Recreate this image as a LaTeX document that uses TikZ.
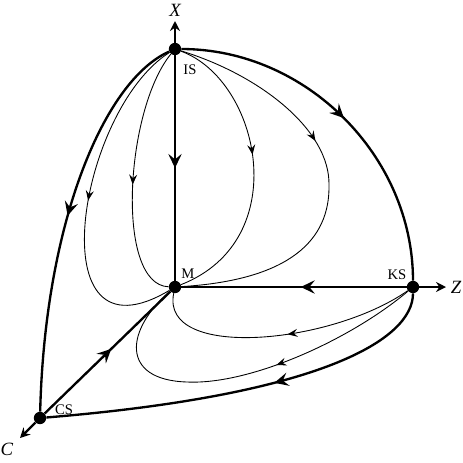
\documentclass[tikz,border=0pt]{standalone}
\usepackage{fontspec}
\setmainfont{Liberation Serif}
\usepackage{tikz}
\usetikzlibrary{arrows.meta,decorations.markings}
\tikzstyle{stpt} = [circle,fill=black,inner sep=0pt,minimum size=3.7mm]
\tikzstyle{orbit} = [line width=2pt]
\tikzstyle{flow} = [line width=0.75pt]
\tikzstyle{axis} = [line width=2pt,-{Stealth[length=3mm,width=3mm,inset=1mm]}]
\tikzstyle{stlab} = [font=\fontsize{12.5}{14}\selectfont]
\tikzstyle{axlab} = [font=\fontsize{16}{18}\selectfont\itshape]
\tikzset{
  bigmid/.style={postaction={decorate},decoration={markings,
    mark=at position #1 with {\arrow{Stealth[length=4.2mm,width=4mm,inset=1.6mm]}}}},
  smallmid/.style={postaction={decorate},decoration={markings,
    mark=at position #1 with {\arrow{Stealth[length=3mm,width=2.4mm,inset=1.1mm]}}}}
}

\begin{document}
\begin{tikzpicture}[x=0.03cm,y=-0.03cm]
\useasboundingbox (0,0) rectangle (463,463);

% Steady states
\node[stpt] (IS) at (175,49) {};
\node[stpt] (M) at (175,287) {};
\node[stpt] (KS) at (413,287) {};
\node[stpt] (CS) at (40,418) {};

% Axes
\coordinate (Xend) at (175,21);
\coordinate (Zend) at (446,287);
\coordinate (Cend) at (20,438);
\draw[axis] (IS) -- (Xend);
\draw[axis] (KS) -- (Zend);
\draw[axis] (CS) -- (Cend);

% Invariant edges
\draw[orbit,bigmid=0.5] (IS) -- (M);
\draw[orbit,bigmid=0.47] (KS) -- (M);
\draw[orbit,bigmid=0.53] (CS) -- (M);
\draw[orbit,bigmid=0.5] (IS) .. controls (306,49) and (413,156) .. (KS);
\draw[orbit,bigmid=0.5] (IS) .. controls (105,80) and (45,220) .. (CS);
\draw[orbit,bigmid=0.43] (KS) .. controls (413,340) and (320,395) .. (CS);

% Trajectories into M
\draw[flow,smallmid=0.5] (IS) .. controls (78,110) and (36,370) .. (M);
\draw[flow,smallmid=0.54] (IS) .. controls (125,110) and (115,285) .. (M);
\draw[flow,smallmid=0.45] (IS) .. controls (260,80) and (295,240) .. (M);
\draw[flow,smallmid=0.4] (IS) .. controls (260,75) and (330,130) .. (329,185)
  .. controls (330,240) and (290,280) .. (M);
\draw[flow,smallmid=0.48] (KS) .. controls (330,345) and (160,360) .. (M);
\draw[flow,smallmid=0.4] (KS) .. controls (350,340) and (250,385) .. (187,382)
  .. controls (120,380) and (125,330) .. (M);

% Labels
\node[axlab] (lX) at (175,10) {X};
\node[axlab] (lZ) at (456,287) {Z};
\node[axlab] (lC) at (7,449) {C};
\node[stlab] (lIS) at (190,70) {IS};
\node[stlab] (lM) at (188,274) {M};
\node[stlab] (lKS) at (397,275) {KS};
\node[stlab] (lCS) at (64,410) {CS};
\end{tikzpicture}
\end{document}
